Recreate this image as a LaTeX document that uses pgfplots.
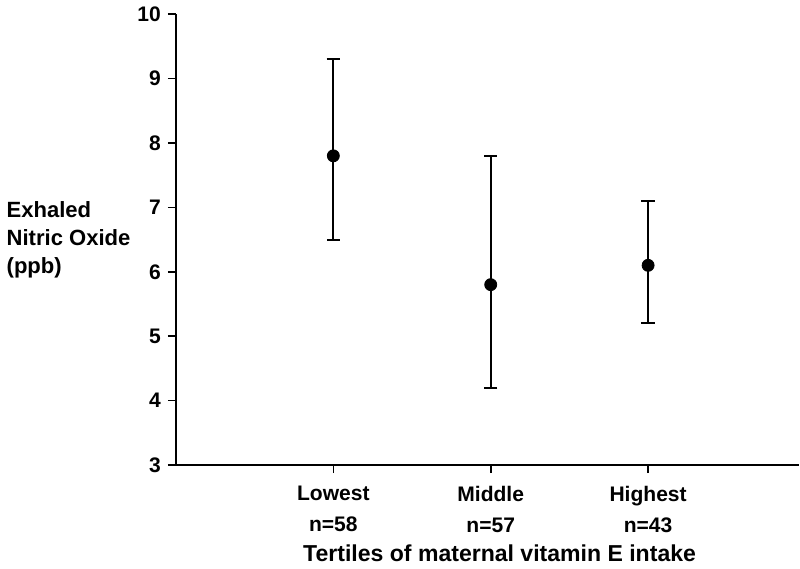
\documentclass[border=0pt]{standalone}
\usepackage{fontspec}
\setmainfont{Liberation Sans}
\usepackage{pgfplots}
\pgfplotsset{compat=1.18}

\begin{document}
\begin{tikzpicture}
\begin{axis}[
    width=311pt, height=225pt,
    scale only axis,
    xmin=0, xmax=3.96,
    ymin=3, ymax=10,
    ytick={3,4,...,10},
    xtick={1,2,3},
    xticklabels={Lowest\\[3pt]n=58, Middle\\[3pt]n=57, Highest\\[3pt]n=43},
    axis lines=left,
    axis line style={-, line width=0.8pt},
    tick style={line width=0.8pt, black},
    tick align=outside,
    major tick length=4pt,
    /pgf/number format/assume math mode=true,
    tick label style={font=\fontsize{10.5}{12.5}\selectfont\bfseries},
    xticklabel style={align=center, yshift=-3pt},
    xlabel={Tertiles of maternal vitamin E intake},
    xlabel style={font=\fontsize{11.5}{13}\selectfont\bfseries, xshift=6pt, yshift=1pt},
    ylabel={Exhaled\\Nitric Oxide\\(ppb)},
    ylabel style={font=\fontsize{11}{14}\selectfont\bfseries, rotate=-90, align=left,
        anchor=west, at={(axis description cs:0,0.5)}, xshift=-88pt},
]
\addplot[only marks, mark=*, mark size=3pt, black,
    error bars/.cd, y dir=both, y explicit,
    error bar style={line width=1pt, black},
    error mark options={rotate=90, mark size=3.3pt, line width=1pt, black}]
    coordinates {
    (1, 7.8) +- (0, 1.5) -= (0, 1.3)
    (2, 5.8) +- (0, 2.0) -= (0, 1.6)
    (3, 6.1) +- (0, 1.0) -= (0, 0.9)
};
\end{axis}
\end{tikzpicture}
\end{document}
